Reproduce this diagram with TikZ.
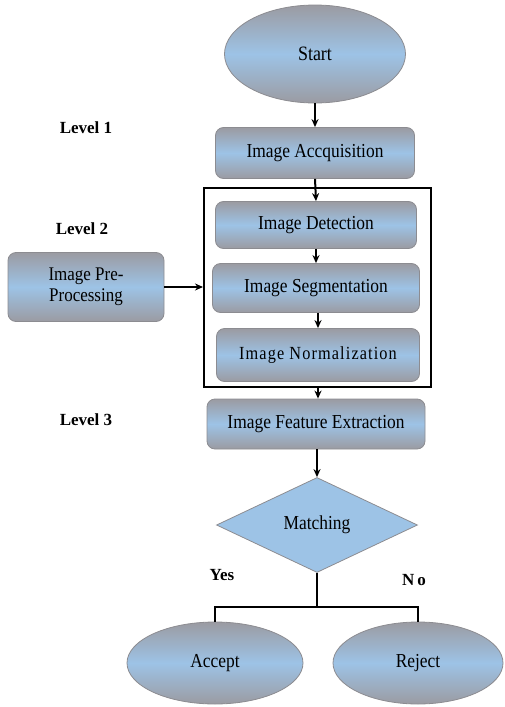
\documentclass[tikz,border=0pt]{standalone}
\usepackage{fontspec}
\setmainfont{Liberation Serif}
\newfontfamily\boxfont[FakeStretch=0.88]{Liberation Serif}
\usetikzlibrary{shapes.geometric,arrows.meta}
\definecolor{shadegray}{RGB}{155,155,162}
\definecolor{shadeblue}{RGB}{157,195,230}
\definecolor{edgegray}{RGB}{140,140,145}
\tikzset{
  shaded/.style={shading=axis, top color=shadegray, bottom color=shadegray, middle color=shadeblue, draw=edgegray, line width=0.8pt},
  procbox/.style={shaded, rectangle, rounded corners=8pt, inner sep=0pt, font=\boxfont\fontsize{19.8}{21}\selectfont, align=center},
  terminal/.style={shaded, ellipse, inner sep=0pt, font=\boxfont\fontsize{19.8}{21}\selectfont},
  decision/.style={diamond, fill=shadeblue, draw=edgegray, line width=0.8pt, inner sep=0pt, font=\boxfont\fontsize{19.8}{21}\selectfont},
  levellabel/.style={font=\bfseries\fontsize{17}{19}\selectfont},
  flow/.style={line width=2pt, -{Stealth[length=8pt,width=7pt]}},
  branch/.style={line width=2pt},
  frame/.style={draw, line width=2pt, rectangle, inner sep=0pt}
}
\begin{document}
\begin{tikzpicture}[x=1pt,y=-1pt]
\path[use as bounding box] (0,0) rectangle (504,707);

\node[terminal, minimum width=181pt, minimum height=98pt, font=\boxfont\fontsize{20.4}{22}\selectfont] (start) at (315,54) {Start};
\node[procbox, minimum width=199pt, minimum height=51pt] (acq) at (315,153) {Image Accquisition};

\node[frame, minimum width=227pt, minimum height=199pt] (group) at (317.5,287.5) {};
\node[procbox, minimum width=201pt, minimum height=47pt] (det) at (316,225) {Image Detection};
\node[procbox, minimum width=207pt, minimum height=49pt] (seg) at (316,288) {Image Segmentation};
\node[procbox, minimum width=203pt, minimum height=53pt, font=\boxfont\fontsize{18.5}{21}\selectfont\addfontfeature{LetterSpace=6}] (norm) at (318,355) {Image Normalization};

\node[procbox, minimum width=156pt, minimum height=69pt, font=\boxfont\fontsize{19.3}{21}\selectfont] (pre) at (86,287) {Image Pre-\\Processing};

\node[procbox, minimum width=218pt, minimum height=50pt] (feat) at (316,424) {Image Feature Extraction};
\node[decision, minimum width=201pt, minimum height=95pt] (match) at (317,525) {Matching};

\node[terminal, minimum width=176pt, minimum height=82pt] (accept) at (215,663) {Accept};
\node[terminal, minimum width=170pt, minimum height=82pt] (reject) at (418,663) {Reject};

\node[levellabel] (lv1) at (86,128) {Level 1};
\node[levellabel] (lv2) at (82,229) {Level 2};
\node[levellabel] (lv3) at (86,420) {Level 3};
\node[levellabel] (yes) at (222,575) {Yes};
\node[levellabel] (no) at (414,580) {N\kern3pt o};

\coordinate (split) at (317,607);

\draw[flow] (start.south) -- (acq.north);
\draw[flow] (acq.south) -- (det.north);
\draw[flow] (det.south) -- (seg.north);
\draw[flow] (seg.south -| norm.north) -- (norm.north);
\draw[flow] (pre.east) -- (group.west |- pre.east);
\draw[flow] (group.south -| norm.south) -- (norm.south |- feat.north);
\draw[flow] (feat.south -| match.north) -- (match.north);
\draw[branch] (match.south) -- (split);
\draw[branch] (split) -| (accept.north);
\draw[branch] (split) -| (reject.north);
\end{tikzpicture}
\end{document}
